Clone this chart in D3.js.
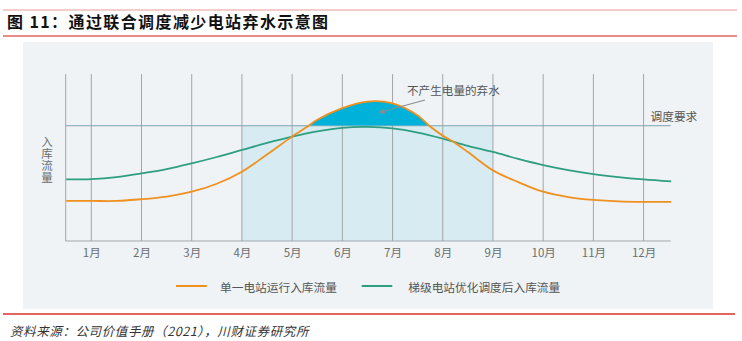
<!DOCTYPE html>
<html><head><meta charset="utf-8">
<script src="https://cdn.jsdelivr.net/npm/d3@7/dist/d3.min.js"></script>
<style>
html,body{margin:0;padding:0;background:#fff;}
svg{display:block;font-family:"Noto Sans CJK SC","Noto Sans",sans-serif;}
</style></head>
<body>
<svg id="c" width="742" height="341"></svg>
<script>
const months = [1,2,3,4,5,6,7,8,9,10,11,12];
const monthLabels = ["1月","2月","3月","4月","5月","6月","7月","8月","9月","10月","11月","12月"];
const xs = [0.5,1,1.5,2,2.5,3,3.5,4,4.5,5,5.33,5.5,6,6.5,7,7.5,7.73,8,8.18,8.5,9,9.5,10,10.5,11,11.5,12,12.55];
const singleFlow = [24.0,24.0,24.0,25.0,26.6,29.5,34.3,41.5,51.8,62.5,69,72.6,79.6,83.5,82.4,75.2,69,63.1,60,53.3,42.3,35.3,29.5,26.3,24.6,23.7,23.4,23.4];
const xs2 = [0.5,1,1.5,2,2.5,3,3.5,4,4.5,5,5.5,6,6.5,7,7.5,8,8.5,9,9.5,10,10.5,11,11.5,12,12.55];
const cascadeFlow = [36.9,37.1,38.3,40.5,43.1,46.5,50.3,54.5,58.7,62.5,65.6,67.8,68.3,67.4,64.9,61.3,57.0,53.3,49.2,45.5,42.5,40.1,38.3,36.9,35.7];
const requirement = 69;
const wetSeason = [4, 9];
const seriesNames = ["单一电站运行入库流量","梯级电站优化调度后入库流量"];

const svg = d3.select("#c");
const W = 742;

// title lines & title
svg.append("line").attr("x1",3).attr("x2",737).attr("y1",10).attr("y2",10).attr("stroke","#e89a9a").attr("stroke-width",1.2);
svg.append("line").attr("x1",3).attr("x2",737).attr("y1",36).attr("y2",36).attr("stroke","#e58c8c").attr("stroke-width",2);
svg.append("text").attr("x",7).attr("y",27.5).attr("font-size",16).attr("font-weight","bold").attr("fill","#111")
  .attr("letter-spacing",1.4).text("图 11：通过联合调度减少电站弃水示意图");

// panel
svg.append("rect").attr("x",23).attr("y",42).attr("width",690).attr("height",267).attr("fill","#eff3f6");

const x = d3.scaleLinear().domain([0.49,12.54]).range([65.7,670.7]);
const y = d3.scaleLinear().domain([0,100]).range([241,74]);

// wet season shading
svg.append("rect").attr("x",x(wetSeason[0])).attr("y",y(requirement))
  .attr("width",x(wetSeason[1])-x(wetSeason[0])).attr("height",y(0)-y(requirement)).attr("fill","#d7ebf3");

// grid
const g = svg.append("g");
g.selectAll("line.v").data(months).join("line").attr("class","v")
  .attr("x1",d=>x(d)).attr("x2",d=>x(d)).attr("y1",y(100)).attr("y2",y(0))
  .attr("stroke","#a3a6a9").attr("stroke-width",1);
g.append("line").attr("x1",x(0.49)).attr("x2",x(0.49)).attr("y1",y(100)).attr("y2",y(0)).attr("stroke","#a3a6a9");
g.append("line").attr("x1",x(0.49)).attr("x2",x(12.54)).attr("y1",y(0)).attr("y2",y(0)).attr("stroke","#a3a6a9");
g.append("line").attr("x1",x(0.49)).attr("x2",x(12.54)).attr("y1",y(requirement)).attr("y2",y(requirement)).attr("stroke","#a3a6a9");

// axis labels
const xAxis = d3.axisBottom(x).tickValues(months).tickFormat((d,i)=>monthLabels[i]).tickSize(0).tickPadding(8);
const ax = svg.append("g").attr("transform",`translate(0,${y(0)})`).call(xAxis);
ax.select(".domain").remove();
ax.selectAll("text").attr("font-size",11.5).attr("fill","#6b6e70").attr("font-family","'Noto Sans CJK SC',sans-serif");

// y label (vertical)
svg.append("text").attr("x",47).attr("y",136).attr("writing-mode","vertical-rl")
  .attr("font-size",11.5).attr("letter-spacing",0.6).attr("fill","#6b6e70").text("入库流量");

// spill area
const ptsA = xs.map((d,i)=>[d,singleFlow[i]]);
const ptsB = xs2.map((d,i)=>[d,cascadeFlow[i]]);
svg.append("clipPath").attr("id","above").append("rect")
  .attr("x",0).attr("y",0).attr("width",W).attr("height",y(requirement));
const curve = d3.curveCatmullRom.alpha(0.5);
const area = d3.area().x(d=>x(d[0])).y0(y(requirement)).y1(d=>y(d[1])).curve(curve);
svg.append("path").datum(ptsA).attr("d",area).attr("fill","#00b1d9").attr("clip-path","url(#above)");

const line = d3.line().x(d=>x(d[0])).y(d=>y(d[1])).curve(curve);
svg.append("path").datum(ptsB).attr("d",line).attr("fill","none").attr("stroke","#2e9e80").attr("stroke-width",1.8);
svg.append("path").datum(ptsA).attr("d",line).attr("fill","none").attr("stroke","#f0901e").attr("stroke-width",1.8);

// requirement label
svg.append("text").attr("x",650.5).attr("y",y(requirement)-10).attr("dominant-baseline","central")
  .attr("font-size",11.7).attr("fill","#555").text("调度要求");

// annotation
svg.append("defs").append("marker").attr("id","arr").attr("viewBox","0 0 10 10").attr("refX",8).attr("refY",5)
  .attr("markerWidth",6).attr("markerHeight",6).attr("orient","auto")
  .append("path").attr("d","M0,1 L9,5 L0,9 Z").attr("fill","#8a8d90");
svg.append("line").attr("x1",425).attr("y1",100).attr("x2",379).attr("y2",112.5)
  .attr("stroke","#8a8d90").attr("stroke-width",1.2).attr("marker-end","url(#arr)");
svg.append("text").attr("x",407).attr("y",89.5).attr("dominant-baseline","central")
  .attr("font-size",11.6).attr("fill","#555").text("不产生电量的弃水");

// legend
const colors = ["#f0901e","#2e9e80"];
const legX = [[176,206.7,220],[361.7,392.3,408.3]];
const lg = svg.append("g");
seriesNames.forEach((n,i)=>{
  lg.append("line").attr("x1",legX[i][0]).attr("x2",legX[i][1]).attr("y1",286).attr("y2",286)
    .attr("stroke",colors[i]).attr("stroke-width",2);
  lg.append("text").attr("x",legX[i][2]).attr("y",286).attr("dominant-baseline","central")
    .attr("font-size",11.7).attr("fill","#555").text(n);
});

// footer
svg.append("line").attr("x1",3).attr("x2",735).attr("y1",314).attr("y2",314).attr("stroke","#d9322a").attr("stroke-width",1.5);
svg.append("text").attr("x",10).attr("y",330).attr("dominant-baseline","central").attr("font-size",12.5)
  .attr("letter-spacing",0.6).attr("font-style","italic").attr("fill","#333").text("资料来源：公司价值手册（2021），川财证券研究所");
</script>
</body></html>
